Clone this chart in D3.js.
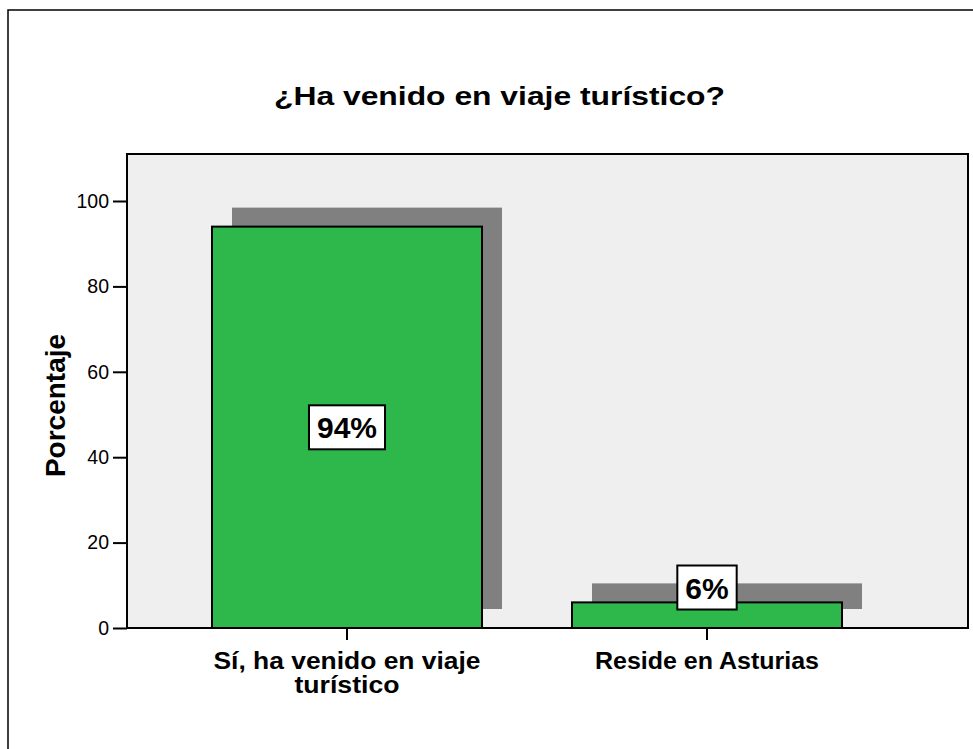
<!DOCTYPE html>
<html>
<head>
<meta charset="utf-8">
<script src="https://cdn.jsdelivr.net/npm/d3@7"></script>
<style>
html,body{margin:0;padding:0;background:#fff;}
svg{display:block;font-family:"Liberation Sans",Arial,sans-serif;}
</style>
</head>
<body>
<svg id="chart" width="973" height="749"></svg>
<script>
const title = "¿Ha venido en viaje turístico?";
const yAxisTitle = "Porcentaje";
const categories = [["Sí, ha venido en viaje", "turístico"], ["Reside en Asturias"]];
const categoryKeys = ["si", "reside"];
const values = [94, 6];
const valueLabels = ["94%", "6%"];
const yTicks = [0, 20, 40, 60, 80, 100];

const svg = d3.select("#chart");

// outer frame
svg.append("rect").attr("x", 8).attr("y", 10).attr("width", 1000).attr("height", 800)
  .attr("fill", "#fff").attr("stroke", "#000").attr("stroke-width", 1.5);

const plot = {left: 127, right: 968, top: 154, bottom: 628};

const y = d3.scaleLinear().domain([0, 100]).range([628, 201]);
const x = d3.scaleBand().domain(categoryKeys).range([167, 887]).paddingInner(0.25).paddingOuter(0.125);

// plot background
svg.append("rect").attr("x", plot.left).attr("y", plot.top)
  .attr("width", plot.right - plot.left).attr("height", plot.bottom - plot.top)
  .attr("fill", "#efefef");

// fit text width (the reference uses a wider bold face)
function fitWidth(sel, w) {
  sel.attr("textLength", w).attr("lengthAdjust", "spacingAndGlyphs");
}

// title
const tt = svg.append("text").attr("x", 499.5).attr("y", 105).attr("text-anchor", "middle")
  .style("font-size", "26px").attr("font-weight", "bold").text(title);
fitWidth(tt, 451);

const dx = 20, dy = -19;
// shadows
svg.selectAll(".shadow").data(values).enter().append("rect")
  .attr("x", (d, i) => x(categoryKeys[i]) + dx)
  .attr("y", d => y(d) + dy)
  .attr("width", x.bandwidth())
  .attr("height", d => y(0) - y(d))
  .attr("fill", "#808080");

// bars
svg.selectAll(".bar").data(values).enter().append("rect")
  .attr("x", (d, i) => x(categoryKeys[i]))
  .attr("y", d => y(d))
  .attr("width", x.bandwidth())
  .attr("height", d => y(0) - y(d))
  .attr("fill", "#2eb84b").attr("stroke", "#000").attr("stroke-width", 2);

// plot frame
svg.append("rect").attr("x", plot.left).attr("y", plot.top)
  .attr("width", plot.right - plot.left).attr("height", plot.bottom - plot.top)
  .attr("fill", "none").attr("stroke", "#000").attr("stroke-width", 2);

// y axis
const yAxis = d3.axisLeft(y).tickValues(yTicks).tickSize(14).tickPadding(4);
const gy = svg.append("g").attr("transform", `translate(${plot.left},0)`).call(yAxis)
  .attr("font-size", null).attr("font-family", null);
gy.select(".domain").remove();
gy.selectAll(".tick line").attr("stroke", "#000").attr("stroke-width", 2);
gy.selectAll(".tick text").style("font-size", "19.5px").attr("fill", "#000")
  .style("font-family", "'Liberation Sans',Arial,sans-serif");

// x axis
const xAxis = d3.axisBottom(x).tickSize(12).tickFormat("");
const gx = svg.append("g").attr("transform", `translate(0,${plot.bottom})`).call(xAxis);
gx.select(".domain").remove();
gx.selectAll(".tick line").attr("stroke", "#000").attr("stroke-width", 2);

// x category labels
const labelWidths = [[267, 105], [224]];
categoryKeys.forEach((k, i) => {
  const cx = x(k) + x.bandwidth() / 2;
  categories[i].forEach((line, j) => {
    const t = svg.append("text").attr("x", cx).attr("y", 669 + j * 24)
      .attr("text-anchor", "middle").style("font-size", "23px").attr("font-weight", "bold").text(line);
    fitWidth(t, labelWidths[i][j]);
  });
});

// y title
svg.append("text").attr("transform", "translate(65,405.5) rotate(-90)")
  .attr("text-anchor", "middle").style("font-size", "28px").attr("font-weight", "bold").text(yAxisTitle);

// value labels
values.forEach((v, i) => {
  const cx = x(categoryKeys[i]) + x.bandwidth() / 2;
  const cy = Math.min(y(v / 2), y(0) - 40.5);
  const g = svg.append("g");
  const t = g.append("text").attr("x", cx).attr("y", cy + 11).attr("text-anchor", "middle")
    .style("font-size", "30px").attr("font-weight", "bold").text(valueLabels[i]);
  const bb = t.node().getBBox();
  g.insert("rect", "text").attr("x", cx - bb.width / 2 - 8).attr("y", cy - 22)
    .attr("width", bb.width + 16).attr("height", 44)
    .attr("fill", "#fff").attr("stroke", "#000").attr("stroke-width", 2);
});
</script>
</body>
</html>
